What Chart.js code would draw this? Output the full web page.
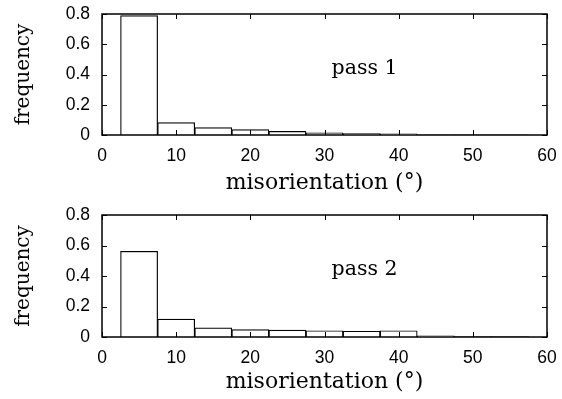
<!DOCTYPE html>
<html>
<head>
<meta charset="utf-8">
<script src="https://cdn.jsdelivr.net/npm/chart.js@4.4.1/dist/chart.umd.min.js"></script>
<style>
  body { margin: 0; background: #fff; }
  canvas { display: block; }
</style>
</head>
<body>
<canvas id="c1" width="562" height="200"></canvas>
<canvas id="c2" width="562" height="199"></canvas>
<script>
// histogram bins (centre of each 5 degree bin)
const binCenters = [5, 10, 15, 20, 25, 30, 35, 40, 45, 50, 55];
const pass1 = [0.789, 0.082, 0.049, 0.036, 0.024, 0.015, 0.009, 0.008, 0.001, 0.001, 0.0005];
const pass2 = [0.562, 0.117, 0.060, 0.049, 0.045, 0.041, 0.038, 0.041, 0.008, 0.003, 0.002];
const xTicks = [0, 10, 20, 30, 40, 50, 60];
const yTicks = [0, 0.2, 0.4, 0.6, 0.8];
const panelLabels = ['pass 1', 'pass 2'];

const serif = '"DejaVu Serif", serif';
const sans = '"Liberation Sans", Arial, sans-serif';

// gnuplot style box: frame, inward mirrored ticks, panel label
const framePlugin = {
  id: 'frame',
  afterDatasetsDraw(chart, args, opts) {
    const { ctx, chartArea: a, scales: { x, y } } = chart;
    ctx.save();
    ctx.strokeStyle = '#000';
    ctx.lineWidth = 1;
    ctx.beginPath();
    xTicks.forEach((v) => {
      const px = Math.round(x.getPixelForValue(v)) + 0.5;
      ctx.moveTo(px, a.bottom); ctx.lineTo(px, a.bottom - 5);
      ctx.moveTo(px, a.top); ctx.lineTo(px, a.top + 5);
    });
    yTicks.forEach((v) => {
      const py = Math.round(y.getPixelForValue(v)) + 0.5;
      ctx.moveTo(a.left, py); ctx.lineTo(a.left + 5, py);
      ctx.moveTo(a.right, py); ctx.lineTo(a.right - 5, py);
    });
    ctx.stroke();
    ctx.lineWidth = 1.5;
    ctx.strokeRect(a.left, a.top, a.right - a.left, a.bottom - a.top);

    ctx.fillStyle = '#000';
    ctx.font = '20.5px ' + serif;
    ctx.textAlign = 'center';
    ctx.textBaseline = 'middle';
    ctx.fillText(opts.label, x.getPixelForValue(35.4), y.getPixelForValue(0.44));
    ctx.restore();
  },
};

function makeChart(id, values, label, padTop, xHeight) {
  return new Chart(document.getElementById(id), {
    type: 'bar',
    data: {
      datasets: [{
        data: binCenters.map((c, i) => ({ x: c, y: values[i] })),
        backgroundColor: '#fff',
        borderColor: '#000',
        borderWidth: 1.2,
        barPercentage: 1,
        categoryPercentage: 1,
      }],
    },
    options: {
      responsive: false,
      animation: false,
      layout: { padding: { top: padTop, right: 15, left: 0, bottom: 0 } },
      plugins: {
        legend: { display: false },
        tooltip: { enabled: false },
        frame: { label: label },
      },
      scales: {
        x: {
          type: 'linear',
          min: 0,
          max: 60,
          offset: false,
          afterBuildTicks: (s) => { s.ticks = xTicks.map((v) => ({ value: v })); },
          afterFit: (s) => {
            s.height = xHeight;
            s.paddingLeft = 0;
            s.paddingRight = 0;
          },
          grid: { display: false, drawTicks: false },
          border: { display: false },
          ticks: { color: '#000', padding: 11, maxRotation: 0, font: { family: sans, size: 17.5 } },
          title: {
            display: true,
            text: 'misorientation (°)',
            color: '#000',
            padding: { top: 4, bottom: 4 },
            font: { family: serif, size: 22 },
          },
        },
        y: {
          min: 0,
          max: 0.8,
          afterBuildTicks: (s) => { s.ticks = yTicks.map((v) => ({ value: v })); },
          afterFit: (s) => {
            s.width = 102;
            s.paddingTop = 0;
            s.paddingBottom = 0;
          },
          grid: { display: false, drawTicks: false },
          border: { display: false },
          ticks: { color: '#000', padding: 12, font: { family: sans, size: 17.5 } },
          title: {
            display: true,
            text: 'frequency',
            color: '#000',
            padding: { top: 12, bottom: 12 },
            font: { family: serif, size: 20 },
          },
        },
      },
    },
    plugins: [framePlugin],
  });
}

makeChart('c1', pass1, panelLabels[0], 14, 65);
makeChart('c2', pass2, panelLabels[1], 15, 62);
</script>
</body>
</html>
